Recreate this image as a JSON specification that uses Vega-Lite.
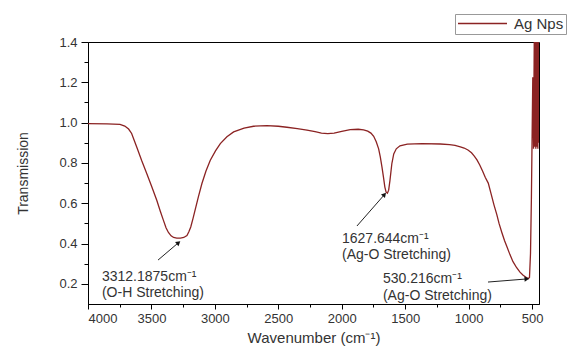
{
  "$schema": "https://vega.github.io/schema/vega-lite/v6.json",
  "autosize": {"type": "none"},
  "padding": {"left": 88, "top": 42, "right": 38, "bottom": 46},
  "width": 451,
  "height": 262,
  "background": "white",
  "config": {
    "view": {"stroke": "#000", "strokeWidth": 1},
    "font": "Liberation Sans",
    "axis": {
      "grid": false,
      "domainColor": "#000",
      "tickColor": "#000",
      "labelColor": "#333",
      "titleColor": "#333",
      "labelFont": "Liberation Sans",
      "titleFont": "Liberation Sans",
      "titleFontWeight": "normal"
    }
  },
  "datasets": {
    "spectrum": [
      {"wn": 4000, "t": 0.995, "series": "Ag Nps"},
      {"wn": 3850, "t": 0.994, "series": "Ag Nps"},
      {"wn": 3748, "t": 0.991, "series": "Ag Nps"},
      {"wn": 3710, "t": 0.983, "series": "Ag Nps"},
      {"wn": 3680, "t": 0.968, "series": "Ag Nps"},
      {"wn": 3656, "t": 0.946, "series": "Ag Nps"},
      {"wn": 3616, "t": 0.879, "series": "Ag Nps"},
      {"wn": 3577, "t": 0.812, "series": "Ag Nps"},
      {"wn": 3537, "t": 0.748, "series": "Ag Nps"},
      {"wn": 3498, "t": 0.683, "series": "Ag Nps"},
      {"wn": 3458, "t": 0.615, "series": "Ag Nps"},
      {"wn": 3430, "t": 0.560, "series": "Ag Nps"},
      {"wn": 3406, "t": 0.516, "series": "Ag Nps"},
      {"wn": 3385, "t": 0.478, "series": "Ag Nps"},
      {"wn": 3366, "t": 0.455, "series": "Ag Nps"},
      {"wn": 3345, "t": 0.438, "series": "Ag Nps"},
      {"wn": 3325, "t": 0.430, "series": "Ag Nps"},
      {"wn": 3300, "t": 0.427, "series": "Ag Nps"},
      {"wn": 3272, "t": 0.427, "series": "Ag Nps"},
      {"wn": 3245, "t": 0.430, "series": "Ag Nps"},
      {"wn": 3220, "t": 0.440, "series": "Ag Nps"},
      {"wn": 3205, "t": 0.458, "series": "Ag Nps"},
      {"wn": 3190, "t": 0.482, "series": "Ag Nps"},
      {"wn": 3172, "t": 0.525, "series": "Ag Nps"},
      {"wn": 3155, "t": 0.568, "series": "Ag Nps"},
      {"wn": 3130, "t": 0.632, "series": "Ag Nps"},
      {"wn": 3102, "t": 0.698, "series": "Ag Nps"},
      {"wn": 3070, "t": 0.760, "series": "Ag Nps"},
      {"wn": 3036, "t": 0.813, "series": "Ag Nps"},
      {"wn": 2995, "t": 0.860, "series": "Ag Nps"},
      {"wn": 2957, "t": 0.896, "series": "Ag Nps"},
      {"wn": 2905, "t": 0.930, "series": "Ag Nps"},
      {"wn": 2852, "t": 0.954, "series": "Ag Nps"},
      {"wn": 2770, "t": 0.973, "series": "Ag Nps"},
      {"wn": 2695, "t": 0.982, "series": "Ag Nps"},
      {"wn": 2590, "t": 0.985, "series": "Ag Nps"},
      {"wn": 2500, "t": 0.982, "series": "Ag Nps"},
      {"wn": 2432, "t": 0.977, "series": "Ag Nps"},
      {"wn": 2350, "t": 0.970, "series": "Ag Nps"},
      {"wn": 2274, "t": 0.963, "series": "Ag Nps"},
      {"wn": 2210, "t": 0.955, "series": "Ag Nps"},
      {"wn": 2160, "t": 0.948, "series": "Ag Nps"},
      {"wn": 2110, "t": 0.945, "series": "Ag Nps"},
      {"wn": 2060, "t": 0.948, "series": "Ag Nps"},
      {"wn": 2000, "t": 0.957, "series": "Ag Nps"},
      {"wn": 1933, "t": 0.965, "series": "Ag Nps"},
      {"wn": 1870, "t": 0.967, "series": "Ag Nps"},
      {"wn": 1828, "t": 0.964, "series": "Ag Nps"},
      {"wn": 1795, "t": 0.958, "series": "Ag Nps"},
      {"wn": 1770, "t": 0.948, "series": "Ag Nps"},
      {"wn": 1748, "t": 0.932, "series": "Ag Nps"},
      {"wn": 1728, "t": 0.905, "series": "Ag Nps"},
      {"wn": 1709, "t": 0.870, "series": "Ag Nps"},
      {"wn": 1696, "t": 0.830, "series": "Ag Nps"},
      {"wn": 1683, "t": 0.780, "series": "Ag Nps"},
      {"wn": 1671, "t": 0.730, "series": "Ag Nps"},
      {"wn": 1660, "t": 0.680, "series": "Ag Nps"},
      {"wn": 1650, "t": 0.655, "series": "Ag Nps"},
      {"wn": 1640, "t": 0.650, "series": "Ag Nps"},
      {"wn": 1630, "t": 0.665, "series": "Ag Nps"},
      {"wn": 1620, "t": 0.712, "series": "Ag Nps"},
      {"wn": 1605, "t": 0.796, "series": "Ag Nps"},
      {"wn": 1590, "t": 0.845, "series": "Ag Nps"},
      {"wn": 1570, "t": 0.870, "series": "Ag Nps"},
      {"wn": 1541, "t": 0.885, "series": "Ag Nps"},
      {"wn": 1483, "t": 0.893, "series": "Ag Nps"},
      {"wn": 1368, "t": 0.896, "series": "Ag Nps"},
      {"wn": 1223, "t": 0.894, "series": "Ag Nps"},
      {"wn": 1150, "t": 0.891, "series": "Ag Nps"},
      {"wn": 1107, "t": 0.887, "series": "Ag Nps"},
      {"wn": 1065, "t": 0.880, "series": "Ag Nps"},
      {"wn": 1035, "t": 0.874, "series": "Ag Nps"},
      {"wn": 1005, "t": 0.864, "series": "Ag Nps"},
      {"wn": 977, "t": 0.850, "series": "Ag Nps"},
      {"wn": 955, "t": 0.834, "series": "Ag Nps"},
      {"wn": 934, "t": 0.815, "series": "Ag Nps"},
      {"wn": 912, "t": 0.790, "series": "Ag Nps"},
      {"wn": 890, "t": 0.760, "series": "Ag Nps"},
      {"wn": 868, "t": 0.728, "series": "Ag Nps"},
      {"wn": 845, "t": 0.700, "series": "Ag Nps"},
      {"wn": 820, "t": 0.640, "series": "Ag Nps"},
      {"wn": 800, "t": 0.592, "series": "Ag Nps"},
      {"wn": 778, "t": 0.545, "series": "Ag Nps"},
      {"wn": 760, "t": 0.500, "series": "Ag Nps"},
      {"wn": 738, "t": 0.455, "series": "Ag Nps"},
      {"wn": 717, "t": 0.415, "series": "Ag Nps"},
      {"wn": 700, "t": 0.388, "series": "Ag Nps"},
      {"wn": 674, "t": 0.345, "series": "Ag Nps"},
      {"wn": 650, "t": 0.310, "series": "Ag Nps"},
      {"wn": 621, "t": 0.280, "series": "Ag Nps"},
      {"wn": 595, "t": 0.258, "series": "Ag Nps"},
      {"wn": 570, "t": 0.243, "series": "Ag Nps"},
      {"wn": 550, "t": 0.234, "series": "Ag Nps"},
      {"wn": 530, "t": 0.226, "series": "Ag Nps"},
      {"wn": 520, "t": 0.232, "series": "Ag Nps"},
      {"wn": 512, "t": 0.35, "series": "Ag Nps"},
      {"wn": 505, "t": 0.62, "series": "Ag Nps"},
      {"wn": 499, "t": 0.95, "series": "Ag Nps"},
      {"wn": 494, "t": 1.225, "series": "Ag Nps"},
      {"wn": 488, "t": 0.87, "series": "Ag Nps"},
      {"wn": 482, "t": 1.45, "series": "Ag Nps"},
      {"wn": 478, "t": 0.88, "series": "Ag Nps"},
      {"wn": 474, "t": 1.45, "series": "Ag Nps"},
      {"wn": 470, "t": 0.87, "series": "Ag Nps"},
      {"wn": 466, "t": 1.45, "series": "Ag Nps"},
      {"wn": 462, "t": 0.88, "series": "Ag Nps"},
      {"wn": 458, "t": 1.45, "series": "Ag Nps"},
      {"wn": 454, "t": 0.87, "series": "Ag Nps"},
      {"wn": 450, "t": 1.45, "series": "Ag Nps"},
      {"wn": 446, "t": 0.9, "series": "Ag Nps"},
      {"wn": 443, "t": 1.45, "series": "Ag Nps"}
    ],
    "labels": [
      {"wn": 3890, "t": 0.233, "label": "3312.1875cm⁻¹"},
      {"wn": 3890, "t": 0.154, "label": "(O-H Stretching)"},
      {"wn": 1998, "t": 0.421, "label": "1627.644cm⁻¹"},
      {"wn": 1998, "t": 0.345, "label": "(Ag-O Stretching)"},
      {"wn": 1675, "t": 0.224, "label": "530.216cm⁻¹"},
      {"wn": 1675, "t": 0.139, "label": "(Ag-O Stretching)"}
    ],
    "arrows": [
      {"wn": 3448, "t": 0.318, "wn2": 3291, "t2": 0.402},
      {"wn": 1880, "t": 0.487, "wn2": 1667, "t2": 0.640},
      {"wn": 847, "t": 0.209, "wn2": 547, "t2": 0.224}
    ]
  },
  "resolve": {"axis": {"x": "independent", "y": "independent"}},
  "layer": [
    {
      "data": {"name": "spectrum"},
      "mark": {"type": "line", "strokeWidth": 1.3, "clip": true},
      "encoding": {
        "x": {
          "field": "wn", "type": "quantitative",
          "scale": {"domain": [445, 4000], "reverse": true, "nice": false, "zero": false},
          "axis": {
            "orient": "bottom",
            "values": [4000, 3500, 3000, 2500, 2000, 1500, 1000, 500],
            "format": "d",
            "labelFontSize": 13,
            "tickSize": 5,
            "labelPadding": 3,
            "title": "Wavenumber (cm⁻¹)",
            "titleFontSize": 15,
            "titlePadding": 5
          }
        },
        "y": {
          "field": "t", "type": "quantitative",
          "scale": {"domain": [0.1, 1.4], "nice": false, "zero": false},
          "axis": {
            "orient": "left",
            "values": [0.2, 0.4, 0.6, 0.8, 1.0, 1.2, 1.4],
            "format": ".1f",
            "labelFontSize": 13,
            "tickSize": 7,
            "labelPadding": 4,
            "title": "Transmission",
            "titleFontSize": 14,
            "titlePadding": 28
          }
        },
        "color": {
          "field": "series", "type": "nominal",
          "scale": {"range": ["#8B2323"]},
          "legend": {
            "title": null,
            "orient": "none",
            "legendX": 367,
            "legendY": -28,
            "symbolType": "stroke",
            "symbolSize": 2400,
            "symbolStrokeWidth": 1.3,
            "clipHeight": 15,
            "labelFontSize": 15,
            "labelColor": "#333",
            "labelOffset": 6,
            "padding": 2,
            "strokeColor": "#999",
            "fillColor": "white"
          }
        }
      }
    },
    {
      "data": {"name": "arrows"},
      "mark": {"type": "rule", "color": "#222", "strokeWidth": 1},
      "encoding": {
        "x": {
          "field": "wn", "type": "quantitative",
          "axis": {
            "orient": "bottom",
            "values": [3750, 3250, 2750, 2250, 1750, 1250, 750],
            "labels": false, "domain": false, "title": null, "tickSize": 3
          }
        },
        "y": {
          "field": "t", "type": "quantitative",
          "axis": {
            "orient": "left",
            "values": [0.3, 0.5, 0.7, 0.9, 1.1, 1.3],
            "labels": false, "domain": false, "title": null, "tickSize": 4
          }
        },
        "x2": {"field": "wn2"},
        "y2": {"field": "t2"}
      }
    },
    {
      "data": {"name": "arrows"},
      "transform": [{"filter": "datum.wn2 == 3291"}],
      "mark": {"type": "point", "shape": "triangle", "filled": true, "color": "#111", "size": 28, "angle": 50, "opacity": 1},
      "encoding": {
        "x": {"field": "wn2", "type": "quantitative", "axis": null},
        "y": {"field": "t2", "type": "quantitative", "axis": null}
      }
    },
    {
      "data": {"name": "arrows"},
      "transform": [{"filter": "datum.wn2 == 1667"}],
      "mark": {"type": "point", "shape": "triangle", "filled": true, "color": "#111", "size": 28, "angle": 41, "opacity": 1},
      "encoding": {
        "x": {"field": "wn2", "type": "quantitative", "axis": null},
        "y": {"field": "t2", "type": "quantitative", "axis": null}
      }
    },
    {
      "data": {"name": "arrows"},
      "transform": [{"filter": "datum.wn2 == 547"}],
      "mark": {"type": "point", "shape": "triangle", "filled": true, "color": "#111", "size": 28, "angle": 86, "opacity": 1},
      "encoding": {
        "x": {"field": "wn2", "type": "quantitative", "axis": null},
        "y": {"field": "t2", "type": "quantitative", "axis": null}
      }
    },
    {
      "data": {"name": "labels"},
      "mark": {"type": "text", "align": "left", "baseline": "middle", "fontSize": 14, "color": "#333", "font": "Liberation Sans"},
      "encoding": {
        "x": {"field": "wn", "type": "quantitative", "axis": null},
        "y": {"field": "t", "type": "quantitative", "axis": null},
        "text": {"field": "label"}
      }
    }
  ]
}
